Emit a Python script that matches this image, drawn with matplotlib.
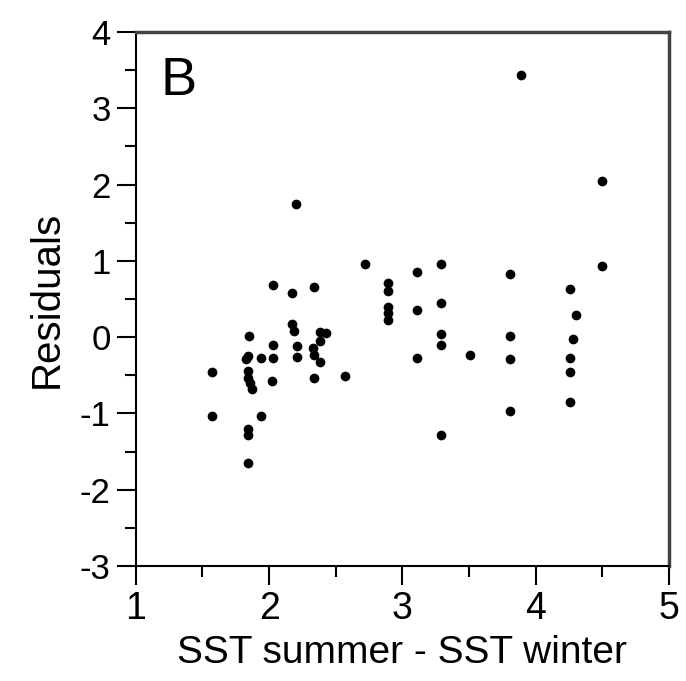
import numpy as np
import matplotlib.pyplot as plt

plt.rcParams['font.family'] = ['Liberation Sans', 'DejaVu Sans']
plt.rcParams['axes.unicode_minus'] = False

# x: SST summer - SST winter, y: residuals
sst_diff = [1.57, 1.57,
            1.85, 1.84, 1.83, 1.84, 1.84, 1.86, 1.87, 1.84, 1.84, 1.84,
            1.94, 1.94,
            2.03, 2.03, 2.03, 2.02,
            2.17, 2.20, 2.17, 2.19, 2.21, 2.21,
            2.34, 2.38, 2.43, 2.38, 2.33, 2.34, 2.38, 2.34,
            2.57, 2.72,
            2.89, 2.89, 2.89, 2.89, 2.89,
            3.11, 3.11, 3.11,
            3.29, 3.29, 3.29, 3.29, 3.29,
            3.51,
            3.81, 3.81, 3.81, 3.81,
            3.89,
            4.26, 4.30, 4.28, 4.26, 4.26, 4.26,
            4.50, 4.50]
residuals = [-0.46, -1.04,
             0.02, -0.25, -0.29, -0.44, -0.53, -0.60, -0.68, -1.21, -1.29, -1.65,
             -0.27, -1.04,
             0.68, -0.10, -0.27, -0.57,
             0.58, 1.75, 0.17, 0.08, -0.12, -0.26,
             0.66, 0.07, 0.05, -0.05, -0.14, -0.23, -0.33, -0.54,
             -0.51, 0.96,
             0.71, 0.61, 0.40, 0.31, 0.23,
             0.85, 0.36, -0.28,
             0.96, 0.45, 0.04, -0.10, -1.28,
             -0.24,
             0.83, 0.02, -0.29, -0.97,
             3.43,
             0.63, 0.29, -0.02, -0.28, -0.46, -0.85,
             2.05, 0.93]

fig = plt.figure(figsize=(6.86, 6.81), dpi=100)
ax = fig.add_axes([0.198, 0.169, 0.777, 0.784])

ax.plot(sst_diff, residuals, 'o', color='black', markersize=7, markeredgewidth=0)

ax.set_xlim(1, 5)
ax.set_ylim(-3, 4)
ax.set_xticks([1, 2, 3, 4, 5])
ax.set_yticks(np.arange(-3, 5))
ax.set_xticks(np.arange(1.5, 5, 1), minor=True)
ax.set_yticks(np.arange(-2.5, 4, 1), minor=True)
ax.tick_params(which='major', direction='out', length=14, width=1.5)
ax.tick_params(which='minor', direction='out', length=8, width=1.5)
ax.tick_params(axis='x', labelsize=27, pad=4)
ax.tick_params(axis='y', labelsize=25, pad=4)

for side in ['left', 'bottom']:
    ax.spines[side].set_linewidth(1.5)
for side in ['top', 'right']:
    ax.spines[side].set_linewidth(2.5)
    ax.spines[side].set_color('#444444')

ax.set_xlabel('SST summer - SST winter', fontsize=28, labelpad=6)
ax.set_ylabel('Residuals', fontsize=29, labelpad=10)
ax.text(0.046, 0.955, 'B', transform=ax.transAxes, fontsize=39, va='top', ha='left')

fig.savefig('out.png', dpi=100)
